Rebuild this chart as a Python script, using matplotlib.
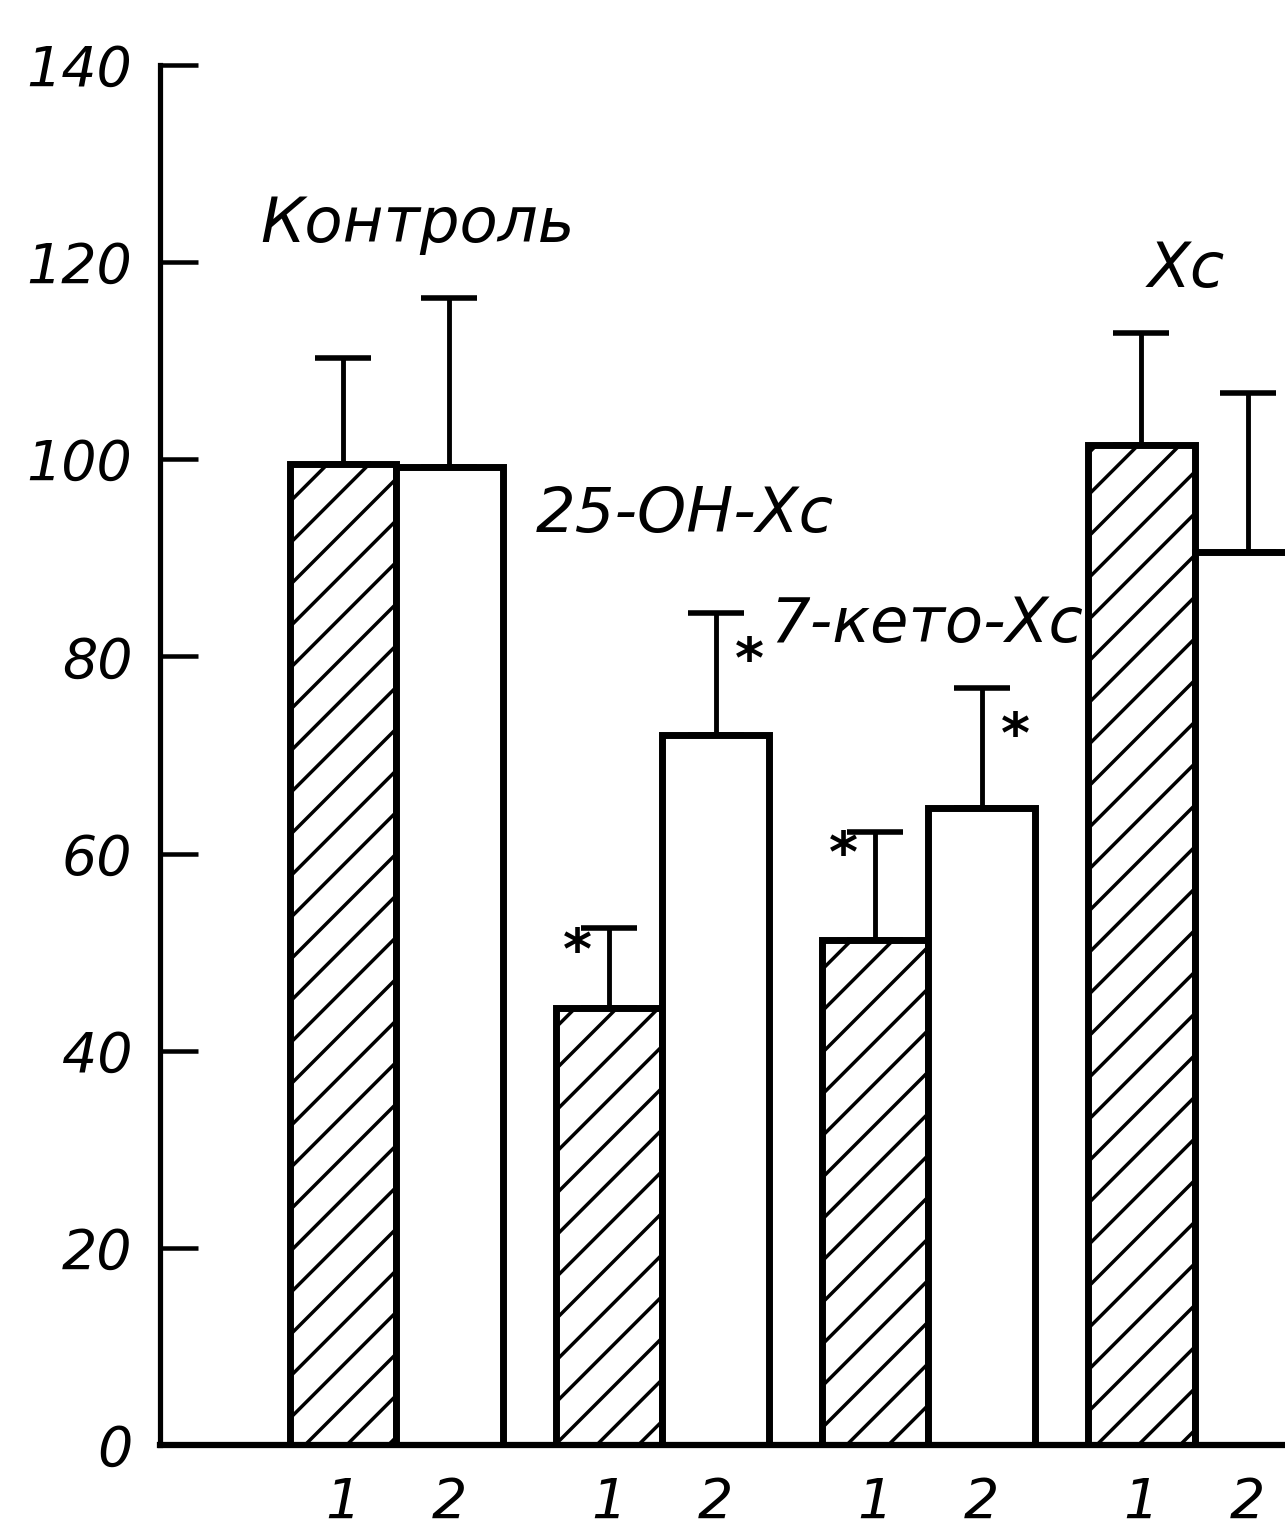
import matplotlib
matplotlib.use("Agg")
import matplotlib.pyplot as plt
import numpy as np

# values (percent of control)
groups = ["Контроль", "25-ОН-Хс", "7-кето-Хс", "Хс"]
hatched_vals = [99.5, 44.3, 51.2, 101.4]   # bars "1"
hatched_err = [10.8, 8.1, 11.0, 11.4]
open_vals = [99.2, 72.0, 64.6, 90.6]       # bars "2"
open_err = [17.2, 12.4, 12.2, 16.1]
# significance marks: (group, bar 0/1)
stars = [(1, 0), (1, 1), (2, 0), (2, 1)]
bar_labels = ["1", "2"]

plt.rcParams['font.family'] = ['DejaVu Sans']
plt.rcParams['font.style'] = 'italic'
plt.rcParams['hatch.linewidth'] = 1.0
plt.rcParams['hatch.color'] = 'black'

fig = plt.figure(figsize=(1285 / 250, 1537 / 250), dpi=250)
ax = fig.add_axes([0.1245, 0.0599, 0.8755, 0.8978])

step = 2.5
g = np.arange(len(groups)) * step
x1 = g
x2 = g + 1

ax.bar(x1, hatched_vals, width=1.0, facecolor='white', edgecolor='black',
       linewidth=2.0, hatch='//', zorder=2)
ax.bar(x2, open_vals, width=1.0, facecolor='white', edgecolor='black',
       linewidth=2.0, zorder=2)

for xs, vals, errs in [(x1, hatched_vals, hatched_err), (x2, open_vals, open_err)]:
    ax.errorbar(xs, vals, yerr=[np.zeros(len(vals)), errs], fmt='none',
                ecolor='black', elinewidth=1.4, capsize=8, capthick=1.6,
                zorder=1)

# asterisks next to the error bar caps
for gi, bi in stars:
    if bi == 0:
        xc = x1[gi] - 0.3
        yc = hatched_vals[gi] + hatched_err[gi] - 2.5
    else:
        xc = x2[gi] + 0.32
        yc = open_vals[gi] + open_err[gi] - 5.0
    ax.text(xc, yc, "*", ha='center', va='center', fontsize=16,
            fontweight='bold')

# group names
label_pos = [(0.70, 123.8), (3.21, 94.3), (5.48, 83.2), (7.92, 119.2)]
for name, (lx, ly) in zip(groups, label_pos):
    ax.text(lx, ly, name, ha='center', va='center', fontsize=18)

ax.set_xlim(-1.72, 8.85)
ax.set_ylim(0, 140)
ax.set_yticks(np.arange(0, 141, 20))
ax.set_xticks(np.concatenate([x1, x2]))
ax.set_xticklabels(bar_labels[:1] * len(groups) + bar_labels[1:] * len(groups))

ax.spines['top'].set_visible(False)
ax.spines['right'].set_visible(False)
ax.spines['left'].set_linewidth(1.5)
ax.spines['bottom'].set_linewidth(1.8)
ax.tick_params(axis='y', direction='in', length=11, width=1.3, pad=8,
               labelsize=16)
ax.tick_params(axis='x', length=0, pad=9, labelsize=16)

fig.savefig("out.png", dpi=250)
